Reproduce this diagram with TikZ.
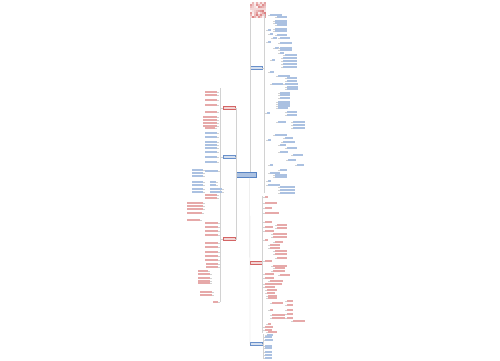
\documentclass[tikz,border=0pt]{standalone}
\usepackage{xcolor}
\definecolor{mapblue}{RGB}{88,132,196}
\definecolor{mapred}{RGB}{206,84,84}
\definecolor{linegray}{RGB}{210,210,210}

\begin{document}
\begin{tikzpicture}
  [x=1pt,y=-1pt,
   conn/.style={draw=linegray,line width=.3pt},
   leaf/.style={inner sep=0,minimum height=1.1pt,anchor=west,fill=#1!50},
   mainb/.style={inner sep=0,minimum width=12pt,minimum height=2.8pt,fill=#1!25,draw=#1!90,line width=.3pt},
   root/.style={inner sep=0,minimum width=20pt,minimum height=5pt,fill=mapblue!50,draw=mapblue,line width=.4pt}]
  \useasboundingbox[fill=white] (0,0) rectangle (500,360);

  % picture on top
  \node[inner sep=0,minimum width=16pt,minimum height=16pt] (img) at (258,10) {};
  \foreach \i in {0,...,7}
    \foreach \j in {0,...,7}{
      \pgfmathsetmacro\s{mod(\i*37+\j*53+\i*\j*11,70)+5}
      \fill[mapred!\s] (250+\i*2,2+\j*2) rectangle ++(2,2);
    }

  % root and main branches
  \node[root] (root) at (246,175) {};
  \node[mainb=mapblue,anchor=west] (r1) at (250,68) {};
  \node[mainb=mapred,anchor=west] (r2) at (250,263) {};
  \node[mainb=mapblue,anchor=west] (r3) at (250,344) {};
  \node[mainb=mapred,anchor=east] (l1) at (235,108) {};
  \node[mainb=mapblue,anchor=east] (l2) at (235,157) {};
  \node[mainb=mapred,anchor=east] (l3) at (235,239) {};

  \draw[conn] (img.south west) -- (root.north -| img.west);
  \draw[conn] (root.south -| img.west) -- (r3.west);
  \foreach \m in {l1,l2,l3}
    \draw[conn] (\m.east) -- ++(1,0) |- (root.west);

  % spines of the branches
  \coordinate (r1a) at (264,14);  \coordinate (r1b) at (264,193);
  \coordinate (r2a) at (262,196); \coordinate (r2b) at (262,333);
  \coordinate (r3a) at (263,334); \coordinate (r3b) at (263,358);
  \coordinate (la) at (220,88);   \coordinate (lb) at (220,302);
  \draw[conn] (r1a) -- (r1b);
  \draw[conn] (r2a) -- (r2b);
  \draw[conn] (r3a) -- (r3b);
  \draw[conn] (la) -- (lb);
  \draw[conn] (r1.east) -- (r1.east -| r1a);
  \draw[conn] (r2.east) -- (r2.east -| r2a);
  \draw[conn] (r3.east) -- (r3.east -| r3a);
  \foreach \m in {l1,l2,l3}
    \draw[conn] (\m.west) -- (\m.west -| la);

  % right upper branch
  \foreach \x/\y/\l [count=\i] in {270/15/12,277/17/10,275/21/12,275/23/12,277/25/10,268/30/3,275/29/12,
      275/31/12,270/34/3,277/35/10,273/38/4,280/38/10,268/42/3,280/43/12,275/48/4,280/48/12,280/50/12,
      280/53/4,285/55/12,272/60/3,283/58/14,283/61/14,283/64/14,283/67/14,270/72/4,278/76/12,287/78/10,
      287/81/10,272/84/11,285/84/13,287/87/11,287/89/11,280/93/10,280/95/10,280/98/10,278/102/12,
      278/104/12,278/106/12,278/108/10,267/113/3,287/112/10,287/115/10,278/122/8,293/122/12,293/125/12,
      293/128/12,275/135/12,285/138/8,268/140/3,283/142/12,280/145/6,287/148/10,280/152/8,293/155/10,
      288/160/8,270/165/3,297/165/7,280/170/7,270/173/10,275/175/12,275/177/12,268/181/3,268/185/12,
      280/187/15,280/190/15,280/193/15}{
    \node[leaf=mapblue,minimum width=\l pt] (ra\i) at (\x,\y) {};
    \draw[conn] (ra\i.west) -- ++(-2,0);
  }

  % right lower branch
  \foreach \x/\y/\l [count=\i] in {265/197/3,265/203/12,265/208/7,265/213/14,265/222/7,265/227/8,
      277/225/10,277/228/10,265/231/9,273/234/14,273/237/14,265/240/3,275/242/8,270/245/10,270/248/10,
      275/251/12,275/254/12,277/258/10,265/261/7,273/266/14,275/268/10,273/271/12,265/274/9,280/275/10,
      265/278/9,270/281/13,265/284/17,265/287/10,267/290/10,267/293/8,268/296/9,268/298/9,287/301/6,
      272/303/11,287/305/6,270/310/3,287/310/6,287/314/6,272/315/13,272/318/13,287/318/6,293/321/12,
      268/324/3,265/327/8,265/330/7,268/332/9}{
    \node[leaf=mapred,minimum width=\l pt] (rb\i) at (\x,\y) {};
    \draw[conn] (rb\i.west) -- ++(-2,0);
  }

  % bottom branch
  \foreach \x/\y/\l [count=\i] in {267/335/6,265/337/7,265/340/8,265/346/7,265/348/7,265/352/7,
      265/355/7,265/358/7}{
    \node[leaf=mapblue,minimum width=\l pt] (rc\i) at (\x,\y) {};
    \draw[conn] (rc\i.west) -- ++(-2,0);
  }

  % left branches
  \foreach \x/\y/\l/\c [count=\i] in {205/92/12/mapred,205/95/12/mapred,205/100/12/mapred,
      205/105/12/mapred,205/112/12/mapred,203/117/14/mapred,203/120/14/mapred,203/123/14/mapred,
      203/126/14/mapred,205/128/10/mapred,205/133/12/mapblue,205/137/12/mapblue,205/142/12/mapblue,
      205/145/12/mapblue,205/148/12/mapblue,205/152/12/mapblue,205/157/12/mapblue,205/162/12/mapblue,
      192/170/11/mapblue,192/173/11/mapblue,192/176/11/mapblue,205/171/13/mapblue,210/182/6/mapblue,
      210/185/6/mapblue,192/182/11/mapblue,192/185/11/mapblue,192/189/11/mapblue,192/192/11/mapblue,
      210/189/12/mapblue,210/192/12/mapblue,205/195/12/mapred,205/198/12/mapred,187/203/16/mapred,
      187/206/16/mapred,187/209/16/mapred,187/213/15/mapred,187/220/13/mapred,205/223/13/mapred,
      205/227/13/mapred,205/231/13/mapred,205/235/13/mapred,205/243/13/mapred,205/247/13/mapred,
      205/252/13/mapred,205/256/13/mapred,205/260/13/mapred,206/264/12/mapred,206/267/12/mapred,
      198/271/10/mapred,198/274/12/mapred,198/278/12/mapred,198/281/12/mapred,198/283/12/mapred,
      200/292/12/mapred,200/295/12/mapred,213/302/5/mapred}{
    \node[leaf=\c,minimum width=\l pt] (lf\i) at (\x,\y) {};
    \draw[conn] (lf\i.east) -- ++(2,0);
  }
\end{tikzpicture}
\end{document}
